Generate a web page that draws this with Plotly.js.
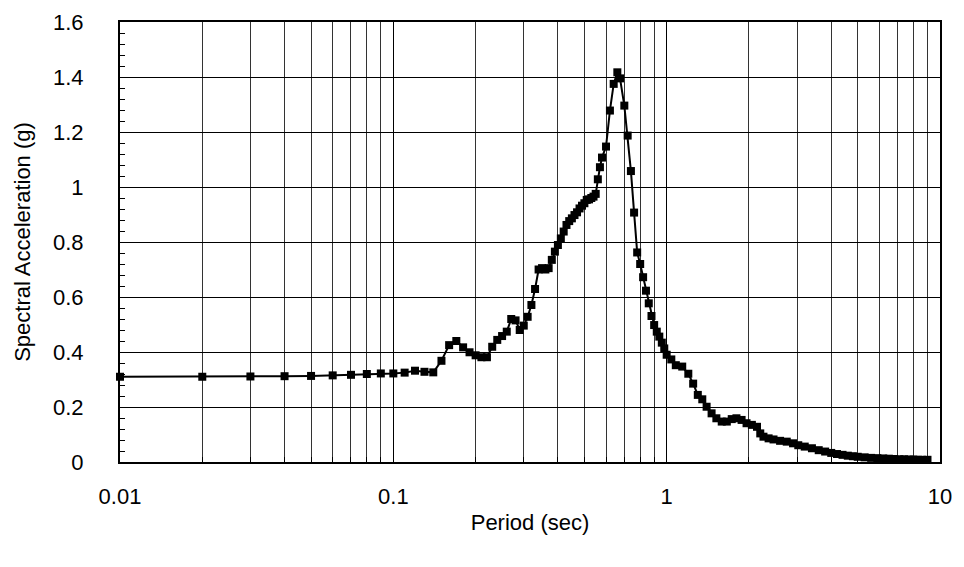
<!DOCTYPE html>
<html>
<head>
<meta charset="utf-8">
<script src="https://cdn.plot.ly/plotly-3.0.1.min.js"></script>
<style>
html,body{margin:0;padding:0;background:#fff;}
#chart{width:964px;height:567px;}
</style>
</head>
<body>
<div id="chart"></div>
<script>
const period = [0.01,0.02,0.03,0.04,0.05,0.06,0.07,0.08,0.09,0.1,
  0.11,0.12,0.13,0.14,0.15,0.16,0.17,0.18,0.19,0.2,
  0.21,0.22,0.23,0.24,0.25,0.26,0.27,0.28,0.29,0.3,
  0.31,0.32,0.33,0.34,0.35,0.36,0.37,0.38,0.39,0.4,
  0.41,0.42,0.43,0.44,0.45,0.46,0.47,0.48,0.49,0.5,
  0.51,0.52,0.53,0.54,0.55,0.56,0.57,0.58,0.6,0.62,
  0.64,0.66,0.675,0.7,0.72,0.74,0.76,0.78,0.8,0.82,
  0.84,0.86,0.88,0.9,0.92,0.94,0.96,0.98,1.0,1.04,
  1.08,1.14,1.2,1.25,1.3,1.35,1.4,1.46,1.52,1.59,
  1.66,1.73,1.8,1.88,1.96,2.05,2.14,2.2,2.26,2.36,
  2.46,2.6,2.75,2.9,3.03,3.2,3.4,3.6,3.8,4.0,
  4.2,4.4,4.6,4.8,5.0,5.3,5.6,5.9,6.2,6.5,
  6.8,7.1,7.4,7.7,8.0,8.3,8.6,9.0];
const spectralAcc = [0.31,0.31,0.311,0.312,0.313,0.315,0.317,0.32,0.322,0.322,
  0.325,0.332,0.328,0.326,0.368,0.425,0.44,0.417,0.399,0.388,
  0.381,0.381,0.419,0.444,0.458,0.474,0.52,0.515,0.48,0.496,
  0.528,0.571,0.629,0.70,0.705,0.70,0.705,0.735,0.765,0.789,
  0.813,0.838,0.862,0.876,0.886,0.898,0.908,0.922,0.932,0.941,
  0.953,0.955,0.96,0.965,0.975,1.028,1.072,1.107,1.147,1.278,
  1.375,1.417,1.395,1.296,1.187,1.058,0.907,0.762,0.72,0.672,
  0.623,0.577,0.531,0.498,0.474,0.456,0.434,0.413,0.39,0.373,
  0.352,0.347,0.321,0.285,0.244,0.228,0.201,0.177,0.159,0.147,
  0.147,0.156,0.159,0.153,0.141,0.135,0.128,0.104,0.092,0.086,
  0.082,0.077,0.074,0.068,0.061,0.056,0.05,0.043,0.038,0.033,
  0.029,0.026,0.023,0.021,0.019,0.017,0.015,0.014,0.013,0.012,
  0.011,0.010,0.010,0.009,0.009,0.008,0.008,0.008];
const xTickVals = [0.01,0.1,1,10];
const xTickText = ['0.01','0.1','1','10'];
const yTickVals = [0,0.2,0.4,0.6,0.8,1,1.2,1.4,1.6];
const yTickText = ['0','0.2','0.4','0.6','0.8','1','1.2','1.4','1.6'];

const font = {family:'"Liberation Sans", Arial, sans-serif', size:22, color:'#000'};

Plotly.newPlot('chart', [{
  x: period, y: spectralAcc, type:'scatter', mode:'lines+markers',
  line:{color:'#000', width:2},
  marker:{symbol:'square', size:8, color:'#000'},
  cliponaxis:false, showlegend:false
}], {
  width:964, height:567,
  margin:{l:120, r:24, t:22, b:105},
  paper_bgcolor:'#fff', plot_bgcolor:'#fff',
  font: font,
  xaxis:{
    type:'log', range:[-2,1],
    tickvals:xTickVals, ticktext:xTickText,
    ticks:'inside', ticklen:6, tickcolor:'#000', tickwidth:1,
    showgrid:true, gridcolor:'#000', gridwidth:1,
    minor:{dtick:'D1', ticks:'inside', ticklen:5, tickcolor:'#000', showgrid:true, gridcolor:'#333', gridwidth:1},
    showline:true, linecolor:'#000', linewidth:2, mirror:true,
    zeroline:false, ticklabelstandoff:14,
    tickfont:font,
    title:{text:'Period (sec)', font:font, standoff:6}
  },
  yaxis:{
    range:[0,1.6],
    tickvals:yTickVals, ticktext:yTickText,
    ticks:'inside', ticklen:6, tickcolor:'#000', tickwidth:1,
    showgrid:true, gridcolor:'#000', gridwidth:1,
    minor:{dtick:0.04, ticks:'inside', ticklen:5, tickcolor:'#000', showgrid:false},
    showline:true, linecolor:'#000', linewidth:2, mirror:true,
    zeroline:false, ticklabelstandoff:30,
    tickfont:font,
    title:{text:'Spectral Acceleration (g)', font:font, standoff:16}
  }
}, {displayModeBar:false, staticPlot:true});
</script>
</body>
</html>
